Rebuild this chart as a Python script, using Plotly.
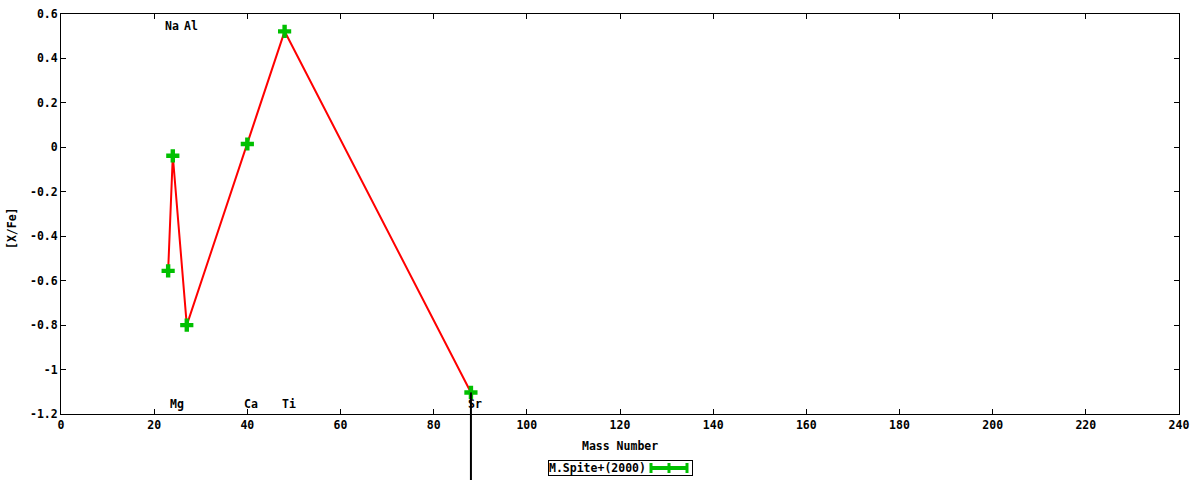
import plotly.graph_objects as go

elements = ["Na", "Mg", "Al", "Ca", "Ti", "Sr"]
mass = [23, 24, 27, 40, 48, 88]
xfe = [-0.556, -0.038, -0.80, 0.015, 0.522, -1.103]
err_minus = [0, 0, 0, 0, 0, 0.45]
label_pos = ["top", "bottom", "top", "bottom", "bottom", "bottom"]
x_ticks = list(range(0, 241, 20))
y_ticks = [0.6, 0.4, 0.2, 0, -0.2, -0.4, -0.6, -0.8, -1, -1.2]
y_ticktext = ["0.6", "0.4", "0.2", "0", "-0.2", "-0.4", "-0.6", "-0.8", "-1", "-1.2"]

YMIN, YMAX = -1.2, 0.6
FONT = dict(family="DejaVu Sans Mono", size=11.5, color="black", weight="bold")

fig = go.Figure()
fig.add_trace(go.Scatter(
    x=mass, y=xfe, mode="lines",
    line=dict(color="#ff0000", width=2),
    showlegend=False, hoverinfo="skip"))

# error bars (drawn unclipped like gnuplot)
for m, v, e in zip(mass, xfe, err_minus):
    if e > 0:
        fig.add_shape(type="line", xref="x", yref="paper", x0=m, x1=m,
                      y0=(v - YMIN) / (YMAX - YMIN), y1=(v - e - YMIN) / (YMAX - YMIN),
                      line=dict(color="black", width=2), layer="above")

fig.add_trace(go.Scatter(
    x=mass, y=xfe, mode="markers",
    marker=dict(symbol="cross", size=11, color="#00c000", line=dict(width=0)),
    cliponaxis=False, showlegend=False))

for el, m, pos in zip(elements, mass, label_pos):
    fig.add_annotation(x=m, y=0.546 if pos == "top" else -1.155, text=el,
                       showarrow=False, xshift=4, font=FONT,
                       xanchor="center", yanchor="middle")

# manual legend (gnuplot-style key)
fig.add_annotation(xref="paper", yref="paper", x=(548 - 61) / 1118, y=(414 - 468) / 400,
                   text="M.Spite+(2000)      ", showarrow=False, xanchor="left",
                   yanchor="middle", font=FONT, bordercolor="black", borderwidth=1,
                   borderpad=0, bgcolor="rgba(0,0,0,0)", width=143, align="left")
lx0, lx1, ly = (651 - 61) / 1118, (687 - 61) / 1118, (414 - 468) / 400
fig.add_shape(type="line", xref="paper", yref="paper", x0=lx0, x1=lx1, y0=ly, y1=ly,
              line=dict(color="#00c000", width=4))
for px in (651, 669, 687):
    xp = (px - 61) / 1118
    fig.add_shape(type="line", xref="paper", yref="paper", x0=xp, x1=xp,
                  y0=(414 - 463) / 400, y1=(414 - 473) / 400,
                  line=dict(color="#00c000", width=3))

# axis titles placed as in gnuplot
fig.add_annotation(xref="paper", yref="paper", x=0.5, y=(414 - 446) / 400,
                   text="Mass Number", showarrow=False, font=FONT,
                   xanchor="center", yanchor="middle")
fig.add_annotation(xref="paper", yref="paper", x=(12 - 61) / 1118, y=(414 - 228) / 400,
                   text="[X/Fe]", showarrow=False, font=FONT, textangle=-90,
                   xanchor="center", yanchor="middle")

fig.update_layout(
    width=1200, height=480,
    margin=dict(l=61, r=21, t=14, b=66),
    plot_bgcolor="white", paper_bgcolor="white",
    font=FONT,
    showlegend=False,
    xaxis=dict(range=[0, 240], tickvals=x_ticks, ticks="inside", ticklen=5,
               tickcolor="black", showline=True, linecolor="black", linewidth=1,
               mirror="ticks", showgrid=False, zeroline=False, automargin=False,
               tickfont=FONT),
    yaxis=dict(range=[YMIN, YMAX], tickvals=y_ticks, ticktext=y_ticktext,
               ticks="inside", ticklen=5, tickcolor="black", showline=True,
               linecolor="black", linewidth=1, mirror="ticks", showgrid=False,
               zeroline=False, automargin=False, tickfont=FONT),
)

fig.write_html("out.html", config={"displayModeBar": False},
               post_script="document.body.style.margin='0';document.body.style.overflow='hidden';")
